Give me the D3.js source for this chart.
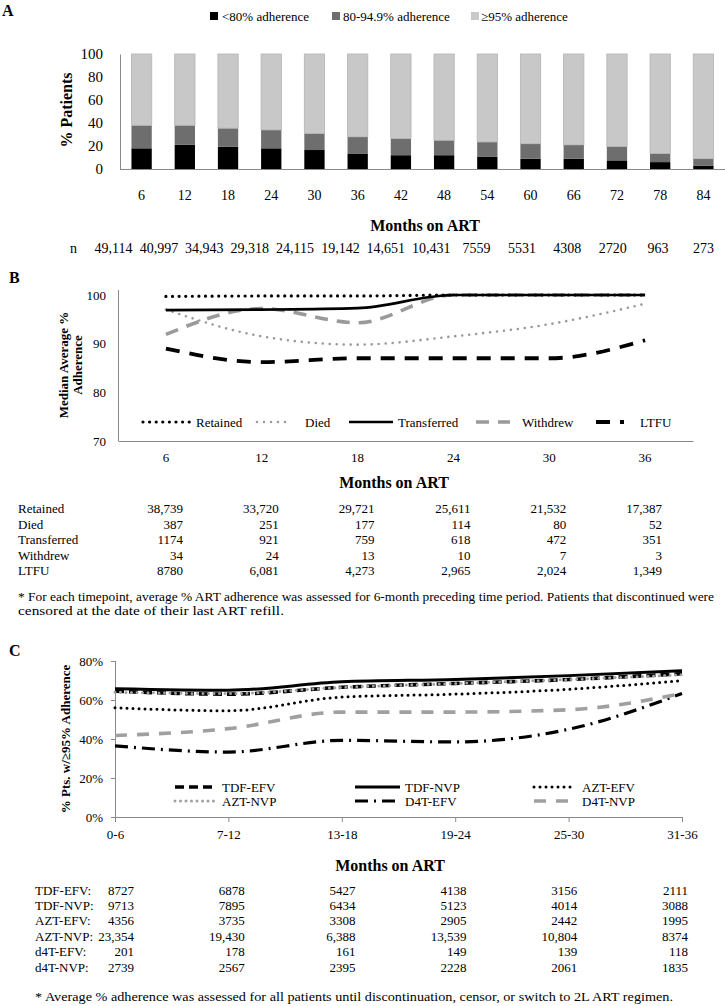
<!DOCTYPE html>
<html><head><meta charset="utf-8">
<script src="https://cdn.jsdelivr.net/npm/d3@7"></script>
<style>
body{margin:0;background:#fff;}
svg{display:block;font-family:"Liberation Serif","Times New Roman",serif;}
</style></head>
<body><svg id="c" width="725" height="1006"></svg>
<script>
// ---------- Panel A data ----------
const monthsA = ["6","12","18","24","30","36","42","48","54","60","66","72","78","84"];
const lt80  = [18, 21, 19.5, 18, 16.5, 13.5, 12, 12, 10.5, 9, 9, 7.5, 6, 3];
const mid80 = [20, 17, 16, 16, 14.5, 14.5, 14.5, 13, 13, 13, 12, 12, 7.5, 6];
const ge95  = [62, 62, 64.5, 66, 69, 72, 73.5, 75, 76.5, 78, 79, 80.5, 86.5, 91];
const nA = ["49,114","40,997","34,943","29,318","24,115","19,142","14,651","10,431","7559","5531","4308","2720","963","273"];
const ticksA = [0,20,40,60,80,100];

// ---------- Panel B data ----------
const monthsB = ["6","12","18","24","30","36"];
const retained    = [99.7, 99.8, 99.8, 100, 100, 100];
const died        = [97, 91.5, 89.8, 91.5, 94, 98.2];
const transferred = [96.9, 97, 97.3, 100, 100, 100];
const withdrew    = [91.9, 97.2, 94.3, 100, 100, 100];
const ltfu        = [89, 86.2, 87, 87, 87, 90.7];
const ticksB = [70,80,90,100];
const tblRetained    = ["38,739","33,720","29,721","25,611","21,532","17,387"];
const tblDied        = ["387","251","177","114","80","52"];
const tblTransferred = ["1174","921","759","618","472","351"];
const tblWithdrew    = ["34","24","13","10","7","3"];
const tblLTFU        = ["8780","6,081","4,273","2,965","2,024","1,349"];

// ---------- Panel C data ----------
const periods = ["0-6","7-12","13-18","19-24","25-30","31-36"];
const tdfEfv = [64.5, 63, 66.5, 68.5, 70.5, 73.5];
const tdfNvp = [65.8, 65, 69.3, 70.5, 72.5, 75];
const aztEfv = [56, 54.5, 61.5, 63, 65.5, 70];
const aztNvp = [64, 63.3, 66.5, 68.5, 70.5, 73];
const d4tEfv = [36.5, 33.3, 39.3, 38.5, 45, 63.3];
const d4tNvp = [41.8, 45.3, 53.8, 53.8, 55, 63.3];
const ticksC = [0,20,40,60,80];
const tblTdfEfv = ["8727","6878","5427","4138","3156","2111"];
const tblTdfNvp = ["9713","7895","6434","5123","4014","3088"];
const tblAztEfv = ["4356","3735","3308","2905","2442","1995"];
const tblAztNvp = ["23,354","19,430","6,388","13,539","10,804","8374"];
const tblD4tEfv = ["201","178","161","149","139","118"];
const tblD4tNvp = ["2739","2567","2395","2228","2061","1835"];

const svg = d3.select("#c");
const AX = "#8a8a8a";

function txt(g, x, y, s, opts={}) {
  const t = g.append("text").attr("x", x).attr("y", y).text(s)
    .attr("font-size", opts.size || 13)
    .attr("fill", "#000");
  if (opts.bold) t.attr("font-weight", "bold");
  if (opts.anchor) t.attr("text-anchor", opts.anchor);
  if (opts.rot) t.attr("transform", `rotate(-90,${x},${y})`);
  if (opts.len) t.attr("textLength", opts.len).attr("lengthAdjust", "spacingAndGlyphs");
  return t;
}

// =============== PANEL A ===============
{
  const g = svg.append("g");
  txt(g, 2, 16, "A", {size: 16, bold: true});
  const x = d3.scaleBand(monthsA, [120, 725]).paddingInner(0.53).paddingOuter(0.265);
  const y = d3.scaleLinear([0, 100], [169, 54]);

  // legend
  const leg = [["<80% adherence", "#000", 210, 222], ["80-94.9% adherence", "#6e6e6e", 332, 343], ["\u226595% adherence", "#c8c8c8", 471, 481]];
  leg.forEach(([lab, col, sx, tx]) => {
    g.append("rect").attr("x", sx).attr("y", 12).attr("width", 8).attr("height", 8).attr("fill", col);
    txt(g, tx, 21, lab, {size: 13});
  });

  const rows = monthsA.map((m, i) => ({m, a: lt80[i], b: mid80[i], c: ge95[i]}));
  const stack = d3.stack().keys(["a", "b", "c"])(rows);
  const cols = {a: "#000", b: "#6e6e6e", c: "#c8c8c8"};
  stack.forEach(layer => {
    g.append("g").selectAll("rect").data(layer).join("rect")
      .attr("x", d => x(d.data.m)).attr("width", x.bandwidth())
      .attr("y", d => y(d[1])).attr("height", d => y(d[0]) - y(d[1]))
      .attr("fill", cols[layer.key])
      .attr("stroke", layer.key === "c" ? "#b4b4b4" : "none").attr("stroke-width", 0.8);
  });

  const ya = g.append("g").attr("transform", "translate(120,0)")
    .call(d3.axisLeft(y).tickValues(ticksA).tickSize(0).tickPadding(17));
  ya.select(".domain").attr("stroke", AX);
  ya.selectAll("text").attr("font-size", 15).attr("font-family", "Liberation Serif");
  const xa = g.append("g").attr("transform", "translate(0,169)")
    .call(d3.axisBottom(x).tickSize(0).tickPadding(21));
  xa.select(".domain").attr("stroke", AX).attr("d", "M120,0.5H725");
  xa.selectAll("text").attr("font-size", 14).attr("font-family", "Liberation Serif");

  txt(g, 72, 110, "% Patients", {size: 16, bold: true, anchor: "middle", rot: true});
  txt(g, 425, 231, "Months on ART", {size: 16, bold: true, anchor: "middle"});
  txt(g, 70, 253, "n", {size: 14});
  nA.forEach((v, i) => {
    const cx = x(monthsA[i]) + x.bandwidth() / 2 - 28 * (1 - i / 13);
    txt(g, cx, 253, v, {size: 14, anchor: "middle"});
  });
}

// =============== PANEL B ===============
{
  const g = svg.append("g");
  txt(g, 9, 283, "B", {size: 16, bold: true});
  const x = d3.scaleBand(monthsB, [118, 693]);
  const y = d3.scaleLinear([70, 100], [441, 295]);
  const cx = m => x(m) + x.bandwidth() / 2;

  const ya = g.append("g").attr("transform", "translate(118,0)")
    .call(d3.axisLeft(y).tickValues(ticksB).tickSize(0).tickPadding(12));
  ya.select(".domain").attr("stroke", AX).attr("d", "M0.5,441V290");
  ya.selectAll("text").attr("font-size", 13).attr("font-family", "Liberation Serif");
  const xa = g.append("g").attr("transform", "translate(0,441)")
    .call(d3.axisBottom(x).tickSize(0).tickPadding(12));
  xa.select(".domain").attr("stroke", AX);
  xa.selectAll("text").attr("font-size", 13).attr("font-family", "Liberation Serif");

  const styles = {
    Retained:    {stroke: "#000", w: 3.2, dash: "0,6.6", cap: "round"},
    Died:        {stroke: "#9a9a9a", w: 2.6, dash: "0,7", cap: "round"},
    Transferred: {stroke: "#000", w: 2.6, dash: null, cap: "butt"},
    Withdrew:    {stroke: "#9a9a9a", w: 3.6, dash: "13,9", cap: "butt"},
    LTFU:        {stroke: "#000", w: 3.8, dash: "14,10", cap: "butt"}
  };
  const series = [["Retained", retained], ["Died", died], ["Transferred", transferred], ["Withdrew", withdrew], ["LTFU", ltfu]];
  const line = d3.line().x(d => cx(d[0])).y(d => y(d[1])).curve(d3.curveMonotoneX);
  const drawOrder = ["LTFU", "Died", "Withdrew", "Transferred", "Retained"];
  drawOrder.forEach(name => {
    const vals = series.find(s => s[0] === name)[1];
    const st = styles[name];
    g.append("path").attr("d", line(monthsB.map((m, i) => [m, vals[i]])))
      .attr("fill", "none").attr("stroke", st.stroke).attr("stroke-width", st.w)
      .attr("stroke-dasharray", st.dash).attr("stroke-linecap", st.cap);
  });

  // legend
  const legPos = {Retained: [143, 190, 196], Died: [257, 292, 305], Transferred: [349, 393, 398], Withdrew: [476, 510, 522], LTFU: [596, 624, 640]};
  series.forEach(([name]) => {
    const [x1, x2, tx] = legPos[name];
    const st = styles[name];
    g.append("line").attr("x1", x1).attr("x2", x2).attr("y1", 422).attr("y2", 422)
      .attr("stroke", st.stroke).attr("stroke-width", st.w).attr("stroke-dasharray", st.dash).attr("stroke-linecap", st.cap);
    txt(g, tx, 427, name, {size: 13});
  });

  txt(g, 68, 365, "Median Average %", {size: 13, bold: true, anchor: "middle", rot: true});
  txt(g, 82, 365, "Adherence", {size: 13, bold: true, anchor: "middle", rot: true});
  txt(g, 394, 488, "Months on ART", {size: 16, bold: true, anchor: "middle"});

  const tbl = [["Retained", tblRetained], ["Died", tblDied], ["Transferred", tblTransferred], ["Withdrew", tblWithdrew], ["LTFU", tblLTFU]];
  tbl.forEach(([lab, vals], r) => {
    const yy = 513 + r * 15.6;
    txt(g, 18, yy, lab, {size: 13});
    vals.forEach((v, i) => txt(g, cx(monthsB[i]) + 17, yy, v, {size: 13, anchor: "end"}));
  });
  txt(g, 18, 601, "* For each timepoint, average % ART adherence was assessed for 6-month preceding time period. Patients that discontinued were", {size: 13, len: 696});
  txt(g, 18, 615, "censored at the date of their last ART refill.", {size: 13, len: 266});
}

// =============== PANEL C ===============
{
  const g = svg.append("g");
  txt(g, 9, 656, "C", {size: 16, bold: true});
  const x = d3.scalePoint(periods, [115, 682]);
  const y = d3.scaleLinear([0, 80], [817, 661]);

  const ya = g.append("g").attr("transform", "translate(115,0)")
    .call(d3.axisLeft(y).tickValues(ticksC).tickSize(4).tickPadding(8).tickFormat(d => d + "%"));
  ya.select(".domain").attr("stroke", AX).attr("d", "M0.5,817V661");
  ya.selectAll("line").attr("stroke", AX);
  ya.selectAll("text").attr("font-size", 13).attr("font-family", "Liberation Serif");
  const xa = g.append("g").attr("transform", "translate(0,817)")
    .call(d3.axisBottom(x).tickSize(5).tickPadding(8));
  xa.select(".domain").attr("stroke", AX).attr("d", "M115,0.5H682");
  xa.selectAll("line").attr("stroke", AX);
  xa.selectAll("text").attr("font-size", 13).attr("font-family", "Liberation Serif");

  const styles = {
    "TDF-EFV": {stroke: "#000", w: 3.6, dash: "9,5", cap: "butt"},
    "TDF-NVP": {stroke: "#000", w: 3, dash: null, cap: "butt"},
    "AZT-EFV": {stroke: "#000", w: 3, dash: "0,6", cap: "round"},
    "AZT-NVP": {stroke: "#a0a0a0", w: 3, dash: "0,5.5", cap: "round"},
    "D4T-EFV": {stroke: "#000", w: 3.2, dash: "13,6,2,6", cap: "butt"},
    "D4T-NVP": {stroke: "#a0a0a0", w: 3.6, dash: "12,10", cap: "butt"}
  };
  const series = [["TDF-EFV", tdfEfv], ["TDF-NVP", tdfNvp], ["AZT-EFV", aztEfv], ["AZT-NVP", aztNvp], ["D4T-EFV", d4tEfv], ["D4T-NVP", d4tNvp]];
  const line = d3.line().x(d => x(d[0])).y(d => y(d[1])).curve(d3.curveMonotoneX);
  series.forEach(([name, vals]) => {
    const st = styles[name];
    g.append("path").attr("d", line(periods.map((p, i) => [p, vals[i]])))
      .attr("fill", "none").attr("stroke", st.stroke).attr("stroke-width", st.w)
      .attr("stroke-dasharray", st.dash).attr("stroke-linecap", st.cap);
  });

  // legend (2 rows x 3 cols)
  const colPos = [[175, 215, 222], [355, 400, 405], [534, 576, 582]];
  series.forEach(([name], i) => {
    const [x1, x2, tx] = colPos[i % 3];
    const yy = i < 3 ? 787 : 801;
    const st = styles[name];
    g.append("line").attr("x1", x1).attr("x2", x2).attr("y1", yy).attr("y2", yy)
      .attr("stroke", st.stroke).attr("stroke-width", st.w).attr("stroke-dasharray", st.dash).attr("stroke-linecap", st.cap);
    txt(g, tx, yy + 5, name, {size: 13});
  });

  txt(g, 70, 739, "% Pts. w/\u226595% Adherence", {size: 13, bold: true, anchor: "middle", rot: true});
  txt(g, 390, 871, "Months on ART", {size: 16, bold: true, anchor: "middle"});

  const tbl = [["TDF-EFV:", tblTdfEfv], ["TDF-NVP:", tblTdfNvp], ["AZT-EFV:", tblAztEfv], ["AZT-NVP:", tblAztNvp], ["d4T-EFV:", tblD4tEfv], ["d4T-NVP:", tblD4tNvp]];
  tbl.forEach(([lab, vals], r) => {
    const yy = 894.5 + r * 15.4;
    txt(g, 35, yy, lab, {size: 13});
    vals.forEach((v, i) => txt(g, x(periods[i]) + 19 - i * 2.6, yy, v, {size: 13, anchor: "end"}));
  });
  txt(g, 35, 1001, "* Average % adherence was assessed for all patients until discontinuation, censor, or switch to 2L ART regimen.", {size: 13, len: 638});
}
</script></body></html>
